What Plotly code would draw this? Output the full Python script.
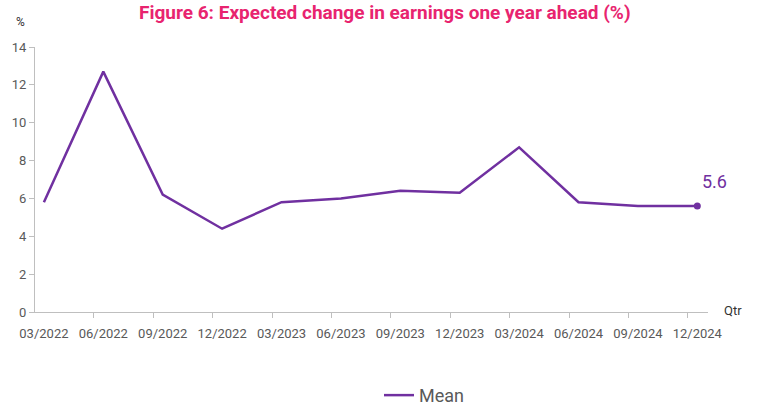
import plotly.graph_objects as go

quarters = ["03/2022", "06/2022", "09/2022", "12/2022", "03/2023", "06/2023",
            "09/2023", "12/2023", "03/2024", "06/2024", "09/2024", "12/2024"]
mean_vals = [5.8, 12.7, 6.2, 4.4, 5.8, 6.0, 6.4, 6.3, 8.7, 5.8, 5.6, 5.6]
y_ticks = [0, 2, 4, 6, 8, 10, 12, 14]

PURPLE = "#7030A0"
GREY = "#595959"
AXIS = "#BFBFBF"
FONT = "Roboto, Arial, sans-serif"

idx = list(range(len(quarters)))
x_range = [-0.15, len(quarters) - 1 + 0.18]

fig = go.Figure()
fig.add_trace(go.Scatter(x=idx, y=mean_vals, mode="lines", name="Mean",
                         line=dict(color=PURPLE, width=2.5)))
fig.add_trace(go.Scatter(x=[idx[-1]], y=[mean_vals[-1]], mode="markers",
                         marker=dict(color=PURPLE, size=7),
                         cliponaxis=False, showlegend=False, hoverinfo="skip"))
# invisible trace on second x-axis for offset tick marks
fig.add_trace(go.Scatter(x=[i - 0.16 for i in idx], y=[None] * len(idx), xaxis="x2",
                         showlegend=False, hoverinfo="skip"))

fig.update_layout(
    width=762, height=410,
    margin=dict(l=35, r=54, t=47, b=98, autoexpand=False),
    paper_bgcolor="white", plot_bgcolor="white",
    font=dict(family=FONT, color=GREY, size=13),
    title=dict(text="<b>Figure 6: Expected change in earnings one year ahead (%)</b>",
               x=0.505, xanchor="center", y=0.985, yanchor="top",
               font=dict(color="#E8246F", size=19, family=FONT)),
    xaxis=dict(range=x_range, tickvals=idx, ticktext=quarters, showgrid=False,
               zeroline=False, showline=True, linecolor=AXIS, linewidth=1,
               ticks="", ticklabelstandoff=9, tickfont=dict(size=13, color=GREY)),
    xaxis2=dict(range=x_range, overlaying="x", side="bottom", anchor="y",
                tickvals=[i - 0.16 for i in idx[1:]], showticklabels=False,
                ticks="outside", ticklen=5, tickcolor=AXIS, showgrid=False,
                zeroline=False, showline=False),
    yaxis=dict(range=[0, 14], tickvals=y_ticks, showgrid=False, zeroline=False,
               showline=True, linecolor=AXIS, linewidth=1, ticks="outside",
               ticklen=5, tickcolor=AXIS, tickfont=dict(size=13, color=GREY)),
    legend=dict(orientation="h", x=0.578, xanchor="center",
                y=-0.245, yanchor="top",
                font=dict(size=18, color=GREY, family=FONT)),
    showlegend=True,
)
fig.add_annotation(text=f"{mean_vals[-1]:.1f}", x=idx[-1], y=mean_vals[-1],
                   showarrow=False, xanchor="left", yanchor="middle",
                   xshift=3, yshift=25,
                   font=dict(size=18, color=PURPLE, family=FONT))
fig.add_annotation(text="%", xref="paper", yref="paper", x=-0.022, y=1.06,
                   showarrow=False, xanchor="center", yanchor="bottom",
                   font=dict(size=12, color="#333333", family=FONT))
fig.add_annotation(text="Qtr", xref="paper", yref="paper", x=1.0, y=0.0,
                   showarrow=False, xanchor="left", yanchor="bottom", xshift=14, yshift=-8,
                   font=dict(size=13, color="#333333", family=FONT))

fig.write_html("out.html")
